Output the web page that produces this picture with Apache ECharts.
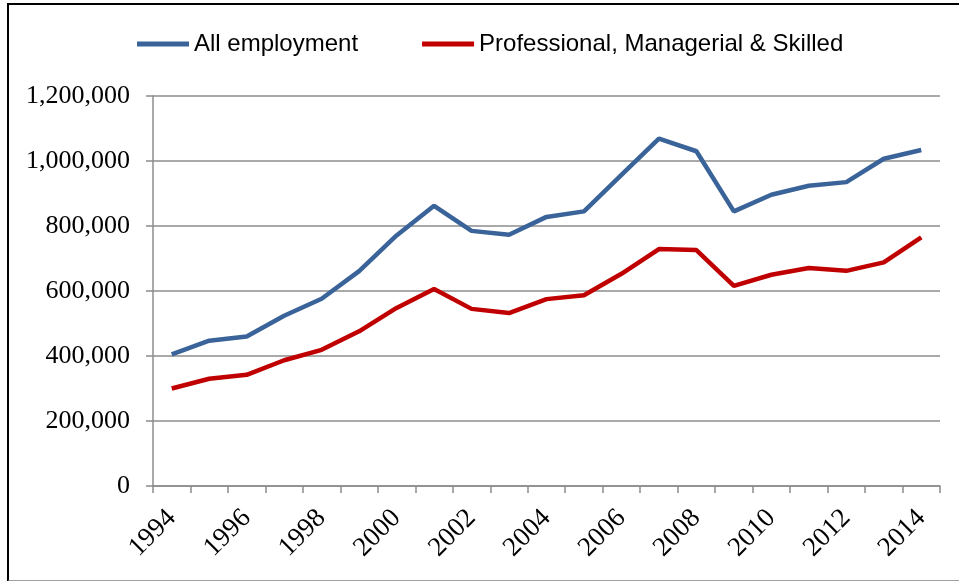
<!DOCTYPE html>
<html>
<head>
<meta charset="utf-8">
<script src="https://cdn.jsdelivr.net/npm/echarts@6/dist/echarts.min.js"></script>
<style>
  html, body { margin: 0; padding: 0; background: #ffffff; }
  .main { position: relative; width: 959px; height: 581px; overflow: hidden; }
  #frame {
    position: absolute; left: 7px; top: 3px; width: 960px; height: 575px;
    border-left: 2px solid #000; border-top: 2px solid #000; border-bottom: 2px solid #a0a0a0;
  }
  #chart { position: absolute; left: 0; top: 0; width: 959px; height: 581px; }
</style>
</head>
<body>
<div class="main">
  <div id="frame"></div>
  <div id="chart"></div>
</div>
<script>
// 年份
var years = ["1994", "1995", "1996", "1997", "1998", "1999", "2000", "2001", "2002", "2003", "2004",
  "2005", "2006", "2007", "2008", "2009", "2010", "2011", "2012", "2013", "2014"];
// All employment
var allEmployment = [405000, 447000, 460000, 524000, 576000, 661000, 771000, 862000, 785000, 773000, 828000,
  845000, 957000, 1069000, 1030000, 845000, 896000, 924000, 935000, 1007000, 1034000];
// Professional, Managerial & Skilled
var professional = [300000, 330000, 342000, 387000, 419000, 476000, 548000, 606000, 545000, 532000, 575000,
  587000, 653000, 729000, 726000, 616000, 650000, 671000, 662000, 688000, 765000];
var seriesNames = ["All employment", "Professional, Managerial & Skilled"];

var myChart = echarts.init(document.getElementById("chart"));
var option = {
  animation: false,
  color: ["#3a6499", "#c00000"],
  legend: {
    left: 132,
    top: 27,
    icon: "rect",
    itemWidth: 52,
    itemHeight: 5,
    itemGap: 64,
    textStyle: {
      fontFamily: "Liberation Sans",
      fontSize: 24,
      color: "#000000",
    },
    data: seriesNames,
  },
  grid: {
    left: 153,
    right: 19,
    top: 96,
    bottom: 95,
    containLabel: false,
  },
  xAxis: {
    type: "category",
    data: years,
    boundaryGap: true,
    axisLine: { lineStyle: { color: "#8c8c8c", width: 1.5 } },
    axisTick: { show: true, interval: 0, length: 7, lineStyle: { color: "#8c8c8c", width: 1.5 } },
    axisLabel: {
      interval: 1,
      rotate: 45,
      margin: 28,
      fontFamily: "Liberation Serif",
      fontSize: 27,
      color: "#000000",
    },
  },
  yAxis: {
    type: "value",
    min: 0,
    max: 1200000,
    interval: 200000,
    axisLine: { show: true, lineStyle: { color: "#8c8c8c", width: 1.5 } },
    axisTick: { show: true, length: 7, lineStyle: { color: "#8c8c8c", width: 1.5 } },
    splitLine: { show: true, lineStyle: { color: "#8c8c8c", width: 1.5 } },
    axisLabel: {
      margin: 23,
      fontFamily: "Liberation Serif",
      fontSize: 26,
      color: "#000000",
      formatter: function (v) {
        return v.toString().replace(/\B(?=(\d{3})+(?!\d))/g, ",");
      },
    },
  },
  series: [
    {
      name: seriesNames[0],
      type: "line",
      data: allEmployment,
      symbol: "none",
      lineStyle: { width: 4.5 },
    },
    {
      name: seriesNames[1],
      type: "line",
      data: professional,
      symbol: "none",
      lineStyle: { width: 4.5 },
    },
  ],
};
myChart.setOption(option);
</script>
</body>
</html>
